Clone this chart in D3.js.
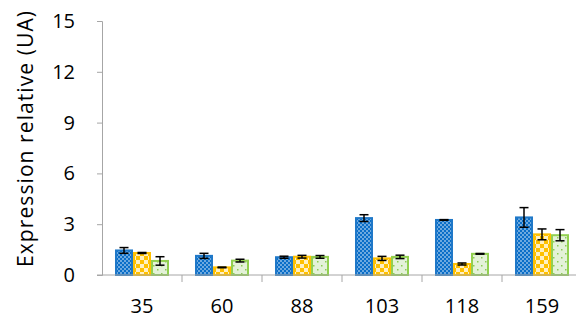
<!DOCTYPE html>
<html>
<head>
<meta charset="utf-8">
<script src="https://cdn.jsdelivr.net/npm/d3@7"></script>
<style>
  html, body { margin: 0; padding: 0; background: #fff; }
  svg { display: block; }
  text { font-family: "Open Sans", "Liberation Sans", sans-serif; fill: #000; }
</style>
</head>
<body>
<svg id="chart" width="576" height="324"></svg>
<script>
const categories = ["35", "60", "88", "103", "118", "159"];
const seriesNames = ["s1", "s2", "s3"];
const s1Values = [1.45, 1.13, 1.05, 3.36, 3.25, 3.40];
const s1Errors = [0.17, 0.15, 0.06, 0.20, 0.02, 0.58];
const s2Values = [1.30, 0.45, 1.08, 0.98, 0.65, 2.40];
const s2Errors = [0.03, 0.02, 0.08, 0.12, 0.06, 0.32];
const s3Values = [0.83, 0.85, 1.07, 1.07, 1.25, 2.35];
const s3Errors = [0.25, 0.08, 0.08, 0.10, 0.02, 0.33];
const yTicks = [0, 3, 6, 9, 12, 15];
const yTitle = "Expression relative (UA)";

const svg = d3.select("#chart");
const defs = svg.append("defs");

// Patterns
const pBlue = defs.append("pattern").attr("id", "pBlue").attr("patternUnits", "userSpaceOnUse")
  .attr("width", 4).attr("height", 4);
pBlue.append("rect").attr("width", 4).attr("height", 4).attr("fill", "#0A6EC8");
pBlue.append("path").attr("d", "M1,0 L2,1 L1,2 L0,1 Z M3,2 L4,3 L3,4 L2,3 Z").attr("fill", "#CFE3F7");

const pOrange = defs.append("pattern").attr("id", "pOrange").attr("patternUnits", "userSpaceOnUse")
  .attr("width", 8).attr("height", 8);
pOrange.append("rect").attr("width", 8).attr("height", 8).attr("fill", "#FFF0C2");
pOrange.append("rect").attr("width", 4).attr("height", 4).attr("fill", "#FFC000");
pOrange.append("rect").attr("x", 4).attr("y", 4).attr("width", 4).attr("height", 4).attr("fill", "#FFC000");

const pGreen = defs.append("pattern").attr("id", "pGreen").attr("patternUnits", "userSpaceOnUse")
  .attr("width", 8).attr("height", 8);
pGreen.append("rect").attr("width", 8).attr("height", 8).attr("fill", "#E4F2D8");
pGreen.append("rect").attr("x", 1).attr("y", 1).attr("width", 1.5).attr("height", 1.5).attr("fill", "#8CCB55");
pGreen.append("rect").attr("x", 5).attr("y", 5).attr("width", 1.5).attr("height", 1.5).attr("fill", "#8CCB55");

const styles = [
  { fill: "url(#pBlue)", stroke: "#1F78C8" },
  { fill: "url(#pOrange)", stroke: "#FFC000" },
  { fill: "url(#pGreen)", stroke: "#92D050" }
];
const valuesBySeries = [s1Values, s2Values, s3Values];
const errorsBySeries = [s1Errors, s2Errors, s3Errors];

const x0 = d3.scaleBand().domain(categories).range([102, 582]).paddingInner(0.325).paddingOuter(0.1625);
const x1 = d3.scaleBand().domain(seriesNames).range([0, x0.bandwidth()]).padding(0);
const y = d3.scaleLinear().domain([0, 15]).range([275, 21]);

// Y axis
const yAxis = d3.axisLeft(y).tickValues(yTicks).tickSize(5).tickPadding(22).tickFormat(d3.format("d"));
const gy = svg.append("g").attr("transform", "translate(102,0)").call(yAxis);
gy.select(".domain").attr("stroke", "#A6A6A6").attr("stroke-width", 1);
gy.selectAll(".tick line").attr("stroke", "#A6A6A6");
gy.selectAll(".tick text").style("font-size", "20px").style("font-family", "'Open Sans', sans-serif").attr("fill", "#000");

// Bars
const data = [];
categories.forEach((c, i) => {
  seriesNames.forEach((s, j) => {
    data.push({ c, s, j, v: valuesBySeries[j][i], e: errorsBySeries[j][i] });
  });
});

const bars = svg.append("g");
bars.selectAll("rect").data(data).join("rect")
  .attr("x", d => x0(d.c) + x1(d.s) + 1)
  .attr("y", d => y(d.v))
  .attr("width", x1.bandwidth() - 2)
  .attr("height", d => y(0) - y(d.v))
  .attr("fill", d => styles[d.j].fill)
  .attr("stroke", d => styles[d.j].stroke)
  .attr("stroke-width", 2);

// X axis
const xBoundaries = categories.map(c => x0(c) - x0.step() * x0.paddingInner() / 2);
const gx = svg.append("g").attr("transform", `translate(0,${y(0)})`);
gx.append("line").attr("x1", 97).attr("x2", 576).attr("y1", 0).attr("y2", 0).attr("stroke", "#A6A6A6");
gx.selectAll("line.tk").data(xBoundaries.slice(1)).join("line").attr("class", "tk")
  .attr("x1", d => d).attr("x2", d => d).attr("y1", 0).attr("y2", 7).attr("stroke", "#A6A6A6");
gx.selectAll("text").data(categories).join("text")
  .attr("x", d => x0(d) + x0.bandwidth() / 2)
  .attr("y", 38)
  .attr("text-anchor", "middle")
  .style("font-size", "20px")
  .text(d => d);

// Error bars
const eb = svg.append("g").attr("stroke", "#000").attr("stroke-width", 1.5).attr("fill", "none");
data.forEach(d => {
  const cx = x0(d.c) + x1(d.s) + x1.bandwidth() / 2;
  const yt = y(d.v + d.e), yb = y(d.v - d.e);
  eb.append("line").attr("x1", cx).attr("x2", cx).attr("y1", yt).attr("y2", yb);
  eb.append("line").attr("x1", cx - 4.5).attr("x2", cx + 4.5).attr("y1", yt).attr("y2", yt);
  eb.append("line").attr("x1", cx - 4.5).attr("x2", cx + 4.5).attr("y1", yb).attr("y2", yb);
});

// Y title
svg.append("text")
  .attr("transform", `translate(33,139) rotate(-90)`)
  .attr("text-anchor", "middle")
  .attr("textLength", 256)
  .attr("lengthAdjust", "spacing")
  .style("font-size", "21px")
  .text(yTitle);
</script>
</body>
</html>
